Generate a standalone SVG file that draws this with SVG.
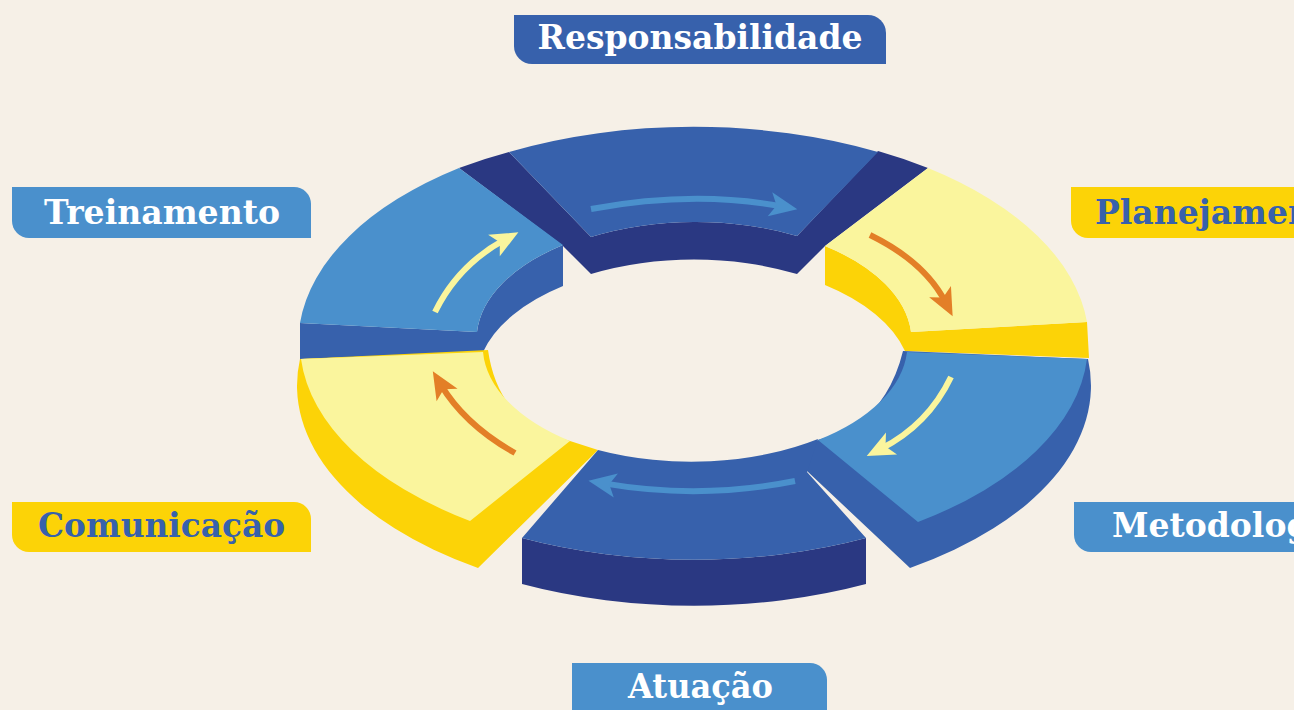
<svg xmlns="http://www.w3.org/2000/svg" width="1294" height="710" viewBox="0 0 1294 710">
<style>
.bg{fill:#f6f0e7}
.navy{fill:#2a3882}
.mid{fill:#3761ac}
.light{fill:#4a90cc}
.pale{fill:#faf59d}
.gold{fill:#fcd307}
.lbl{font-family:"DejaVu Serif","Liberation Serif",serif;font-weight:bold;font-size:33px}
.w{fill:#ffffff}
.b{fill:#3761ac}
.arr{fill:none;stroke-width:6}
</style>
<defs>
<marker id="hOr" markerUnits="userSpaceOnUse" markerWidth="30" markerHeight="30" refX="0" refY="0" orient="auto" viewBox="-12 -12 27 24" overflow="visible"><path d="M14,0 L-11,-11 L-5,0 L-11,11 Z" fill="#e37f27"/></marker>
<marker id="hYe" markerUnits="userSpaceOnUse" markerWidth="30" markerHeight="30" refX="0" refY="0" orient="auto" viewBox="-12 -12 27 24" overflow="visible"><path d="M14,0 L-11,-11 L-5,0 L-11,11 Z" fill="#faf59d"/></marker>
<marker id="hBl" markerUnits="userSpaceOnUse" markerWidth="30" markerHeight="30" refX="0" refY="0" orient="auto" viewBox="-12 -12 27 24" overflow="visible"><path d="M14,0 L-11,-11 L-5,0 L-11,11 Z" fill="#4a90cc"/></marker>
</defs>
<rect class="bg" x="0" y="0" width="1294" height="710"/>

<g id="seg-responsabilidade">
<path class="navy" d="M459,168 A395,217 0 0 1 509,152 L591,237 A215,118 0 0 1 797,236 L878,151 A395,217 0 0 1 928,168 L825,246 L797,274 A215,118 0 0 0 591,274 L563,246 Z"/>
<path class="mid" d="M509,152 A395,217 0 0 1 878,152 L797,236 A215,118 0 0 0 591,237 Z"/>
</g>
<g id="seg-treinamento">
<path class="mid" d="M563,245 L563,286 A215,118 0 0 0 483,352 L300,359 L300,323 L477,332 A215,118 0 0 1 563,245 Z"/>
<path class="light" d="M459,168 A395,217 0 0 0 300,323 L477,332 A215,118 0 0 1 563,245 Z"/>
</g>
<g id="seg-planejamento">
<path class="gold" d="M825,246 L825,285 A215,118 0 0 1 905,351 L1089,358 L1087,322 L911,332 A215,118 0 0 0 825,246 Z"/>
<path class="pale" d="M928,168 A395,217 0 0 1 1087,322 L911,332 A215,118 0 0 0 825,246 Z"/>
</g>
<g id="seg-comunicacao">
<path class="gold" d="M300,359 A395,217 0 0 0 478,568 L598,450 L570,441 A215,118 0 0 1 530,426 Q495,400 488,350 Z"/>
<path class="pale" d="M301,359 A395,217 0 0 0 470,521 L570,441 A215,118 0 0 1 483,352 Z"/>
</g>
<g id="seg-metodologia">
<path class="mid" d="M903,351 L1088,359 A395,217 0 0 1 910,568 L790,455 L818,440 A215,118 0 0 0 856,426 Q891,400 903,351 Z"/>
<path class="light" d="M907,352 L1087,359 A395,217 0 0 1 918,522 L818,440 A215,118 0 0 0 907,352 Z"/>
</g>
<g id="seg-atuacao">
<path class="navy" d="M522,538 A395,217 0 0 0 866,538 L866,584 A395,217 0 0 1 522,584 Z"/>
<path class="mid" d="M598,450 A215,118 0 0 0 818,439 L807,472 L866,538 A395,217 0 0 1 522,538 Z"/>
</g>

<g id="connectors">
<path class="arr" stroke="#4a90cc" marker-end="url(#hBl)" d="M591,209 Q694,190 782,206.5"/>
<path class="arr" stroke="#e37f27" marker-end="url(#hOr)" d="M870,235 Q925,262 945.6,302.5"/>
<path class="arr" stroke="#faf59d" marker-end="url(#hYe)" d="M951,377 Q928,425 880.6,449"/>
<path class="arr" stroke="#4a90cc" marker-end="url(#hBl)" d="M795,481 Q700,500 603.8,483.4"/>
<path class="arr" stroke="#e37f27" marker-end="url(#hOr)" d="M515,453 Q465,425 440.8,384.6"/>
<path class="arr" stroke="#faf59d" marker-end="url(#hYe)" d="M435,312 Q458,265 504.7,239.7"/>
</g>

<g id="label-responsabilidade">
<path class="mid" d="M514,15 H868 A18,18 0 0 1 886,33 V64 H532 A18,18 0 0 1 514,46 Z"/>
<text class="lbl w" x="700" y="49" text-anchor="middle" textLength="325" lengthAdjust="spacingAndGlyphs">Responsabilidade</text>
</g>
<g id="label-treinamento">
<path class="light" d="M12,187 H294 A17,17 0 0 1 311,204 V238 H29 A17,17 0 0 1 12,221 Z"/>
<text class="lbl w" x="162" y="224" text-anchor="middle" textLength="236" lengthAdjust="spacingAndGlyphs">Treinamento</text>
</g>
<g id="label-planejamento">
<path class="gold" d="M1071,187 H1400 V238 H1088 A17,17 0 0 1 1071,221 Z"/>
<text class="lbl b" x="1095" y="224">Planejamento</text>
</g>
<g id="label-comunicacao">
<path class="gold" d="M12,502 H294 A17,17 0 0 1 311,519 V552 H29 A17,17 0 0 1 12,535 Z"/>
<text class="lbl b" x="161.5" y="537" text-anchor="middle" textLength="247" lengthAdjust="spacingAndGlyphs">Comunicação</text>
</g>
<g id="label-metodologia">
<path class="light" d="M1074,502 H1400 V552 H1091 A17,17 0 0 1 1074,535 Z"/>
<text class="lbl w" x="1112" y="537">Metodologia</text>
</g>
<g id="label-atuacao">
<path class="light" d="M572,663 H810 A17,17 0 0 1 827,680 V740 H572 Z"/>
<text class="lbl w" x="700.5" y="698" text-anchor="middle" textLength="145" lengthAdjust="spacingAndGlyphs">Atuação</text>
</g>
</svg>
